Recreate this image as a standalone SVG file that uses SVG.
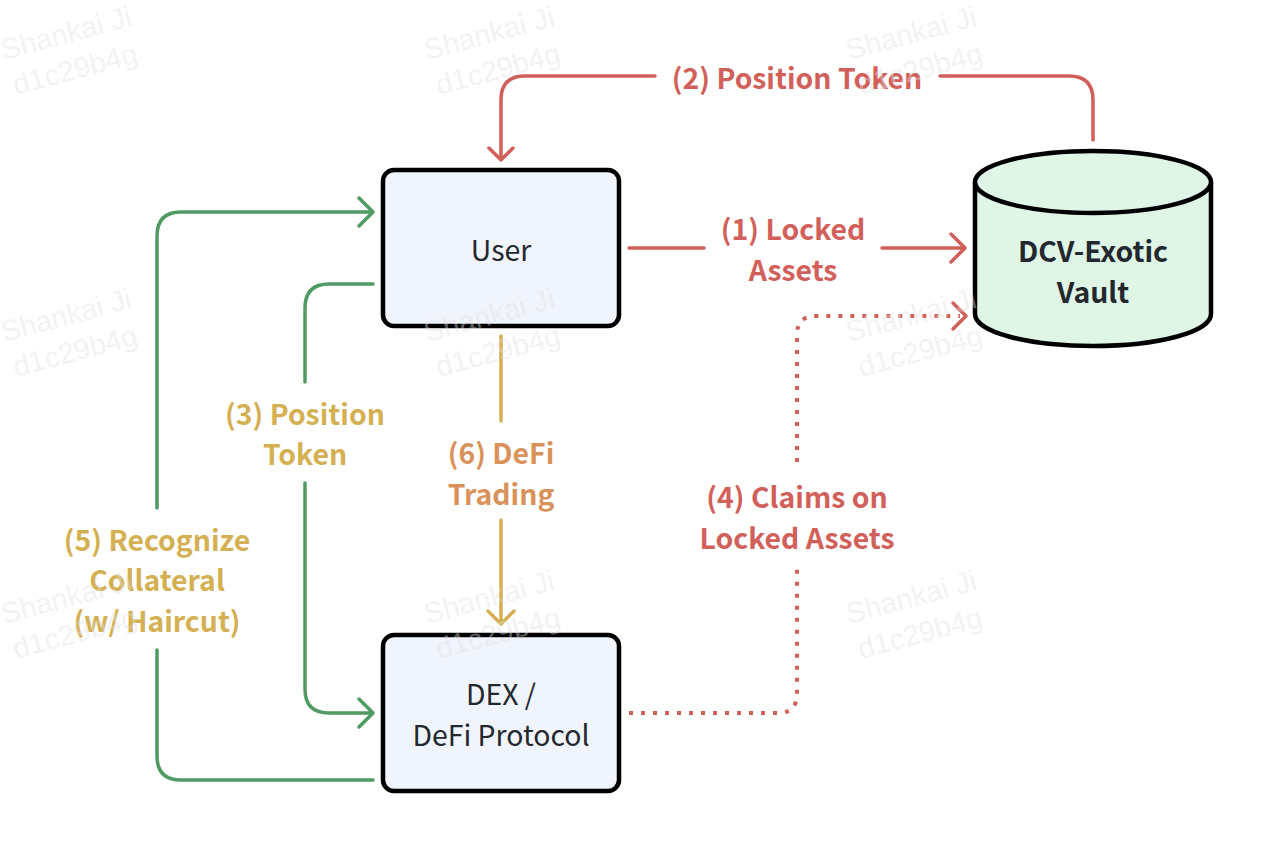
<svg xmlns="http://www.w3.org/2000/svg" xmlns:xlink="http://www.w3.org/1999/xlink" width="1262" height="846" viewBox="0 0 1262 846">
<style>
text{font-family:"Noto Sans CJK SC","Noto Sans",sans-serif;font-size:28.4px;text-anchor:middle}
.n{fill:#f0f4fd;stroke:#000;stroke-width:4.5}
.c{fill:#dff5e6;stroke:#000;stroke-width:4.5}
.t{fill:#23272e}
.b{font-weight:700}
.l{font-weight:700}
.red{fill:none;stroke:#d2605a;stroke-width:3.5;stroke-linecap:round;stroke-linejoin:round}
.grn{fill:none;stroke:#4f9b63;stroke-width:3.5;stroke-linecap:round;stroke-linejoin:round}
.yel{fill:none;stroke:#d4b052;stroke-width:3.5;stroke-linecap:round;stroke-linejoin:round}
.dot{stroke-dasharray:4 8;stroke-width:4;stroke-linecap:butt}
.wm{font-family:"Liberation Sans",Arial,sans-serif;font-size:29px;fill:#dfe1e5;fill-opacity:.42;text-anchor:start}
</style>
<defs>
<g id="w"><text class="wm" transform="translate(4,60) rotate(-15)">Shankai Ji</text><text class="wm" transform="translate(16,95) rotate(-15)">d1c29b4g</text></g>
</defs>
<rect width="1262" height="846" fill="#fff"/>
<g id="user"><rect class="n" x="383" y="170" width="236" height="156" rx="11"/><text class="t" x="501" y="261">User</text></g>
<g id="dex"><rect class="n" x="383" y="635" width="236" height="156" rx="11"/><text class="t" x="501" y="705">DEX /</text><text class="t" x="501" y="746">DeFi Protocol</text></g>
<g id="vault"><path class="c" d="M975 182V314C975 332 1028 346 1093 346S1211 332 1211 314V182"/><ellipse class="c" cx="1093" cy="182" rx="118" ry="31"/><text class="t b" x="1093" y="262">DCV-Exotic</text><text class="t b" x="1093" y="303">Vault</text></g>
<g id="connectors">
<path class="red" d="M1093 140V100Q1093 76 1069 76H940M655 76H525Q501 76 501 100V160M489 148L501 160L513 148"/>
<path class="red" d="M629 248H704M882 248H965M951 234L965 248L951 262"/>
<path class="red dot" d="M629 713H778Q797 713 797 694V566M797 462V335Q797 316 816 316H960"/>
<path class="red" d="M953 303L966 316L953 329"/>
<path class="grn" d="M157 508V236Q157 212 181 212H373M359 198L373 212L359 226"/>
<path class="grn" d="M373 284H329Q305 284 305 308V382M305 483V689Q305 713 329 713H373M359 699L373 713L359 727"/>
<path class="grn" d="M157 650V756Q157 780 181 780H373"/>
<path class="yel" d="M501 336V421M501 520V624M488 611L501 624L514 611"/>
</g>
<g id="labels">
<text class="l" x="797" y="89" fill="#d2605a">(2) Position Token</text>
<text class="l" x="793" y="240" fill="#d2605a">(1) Locked</text><text class="l" x="793" y="281" fill="#d2605a">Assets</text>
<text class="l" x="797" y="508" fill="#d2605a">(4) Claims on</text><text class="l" x="797" y="549" fill="#d2605a">Locked Assets</text>
<text class="l" x="305" y="425" fill="#d4b052">(3) Position</text><text class="l" x="305" y="465" fill="#d4b052">Token</text>
<text class="l" x="157" y="551" fill="#d4b052">(5) Recognize</text><text class="l" x="157" y="591" fill="#d4b052">Collateral</text><text class="l" x="157" y="632" fill="#d4b052">(w/ Haircut)</text>
<text class="l" x="501" y="464" fill="#d9925a">(6) DeFi</text><text class="l" x="501" y="505" fill="#d9925a">Trading</text>
</g>
<g id="watermarks">
<use xlink:href="#w"/><use xlink:href="#w" x="423"/><use xlink:href="#w" x="845"/>
<use xlink:href="#w" y="282"/><use xlink:href="#w" x="423" y="282"/><use xlink:href="#w" x="845" y="282"/>
<use xlink:href="#w" y="564"/><use xlink:href="#w" x="423" y="564"/><use xlink:href="#w" x="845" y="564"/>
</g>
</svg>
